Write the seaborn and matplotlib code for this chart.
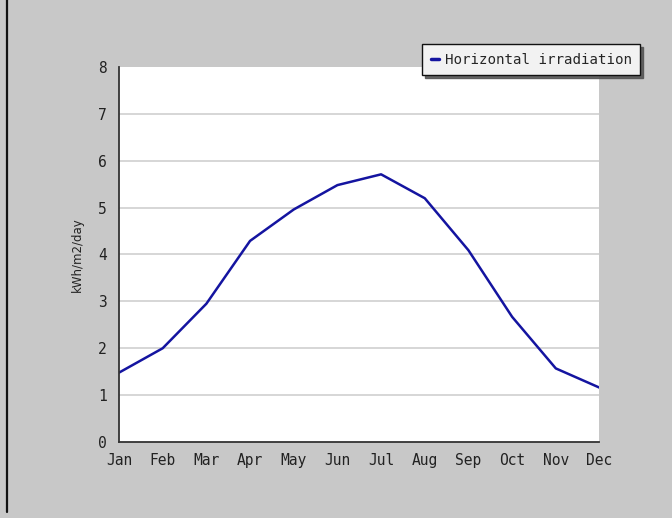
import numpy as np
import pandas as pd
import seaborn as sns
import matplotlib.pyplot as plt
from matplotlib.lines import Line2D

sns.set_style("white")

months = ["Jan", "Feb", "Mar", "Apr", "May", "Jun", "Jul", "Aug", "Sep", "Oct", "Nov", "Dec"]
irradiation = [1.48, 2.0, 2.95, 4.29, 4.96, 5.48, 5.71, 5.2, 4.09, 2.67, 1.57, 1.16]
yticks = [0, 1, 2, 3, 4, 5, 6, 7, 8]

df = pd.DataFrame({"pos": range(len(months)), "value": irradiation})

bg = "#c8c8c8"
fig = plt.figure(figsize=(6.72, 5.18), dpi=100, facecolor=bg)
ax = fig.add_axes([0.1771, 0.1467, 0.7150, 0.7240])
ax.set_facecolor("white")

sns.lineplot(data=df, x="pos", y="value", color="#1414a0", linewidth=1.8, ax=ax)

ax.set_xlim(0, 11)
ax.set_ylim(0, 8)
ax.set_xticks(range(len(months)))
ax.set_xticklabels(months)
ax.set_yticks(yticks)
ax.set_xlabel("")
ax.set_ylabel("kWh/m2/day", fontsize=8.5, color="#222222", labelpad=10)

for y in yticks[1:-1]:
    ax.axhline(y, color="#cfcfcf", linewidth=1.2, zorder=0)

for s in ["top", "right"]:
    ax.spines[s].set_visible(False)
for s in ["left", "bottom"]:
    ax.spines[s].set_color("#333333")
    ax.spines[s].set_linewidth(1.3)

ax.tick_params(axis="both", direction="in", length=5, width=1.2, color="#333333",
               labelsize=10.5, labelcolor="#222222")
ax.tick_params(axis="x", pad=8)
ax.tick_params(axis="y", pad=9)
for lab in ax.get_xticklabels() + ax.get_yticklabels():
    lab.set_family("DejaVu Sans Mono")

handle = Line2D([], [], color="#1414a0", linewidth=2.5)
leg = fig.legend([handle], ["Horizontal irradiation"], loc="upper left",
                 bbox_to_anchor=(422 / 672, 1 - 44 / 518), borderaxespad=0,
                 frameon=True, fancybox=False,
                 shadow={"color": "#555555", "alpha": 0.9}, handlelength=0.6, handletextpad=0.4,
                 borderpad=0.6, prop={"family": "DejaVu Sans Mono", "size": 10.2})
leg.get_frame().set_facecolor("#f2f2f2")
leg.get_frame().set_edgecolor("#111111")
leg.get_frame().set_linewidth(1.0)
leg.get_frame().set_alpha(1)

fig.add_artist(Line2D([6.5 / 672, 6.5 / 672], [6 / 518, 1], transform=fig.transFigure,
                      color="#111111", linewidth=1.6))

fig.savefig("out.png", dpi=100, facecolor=bg)
